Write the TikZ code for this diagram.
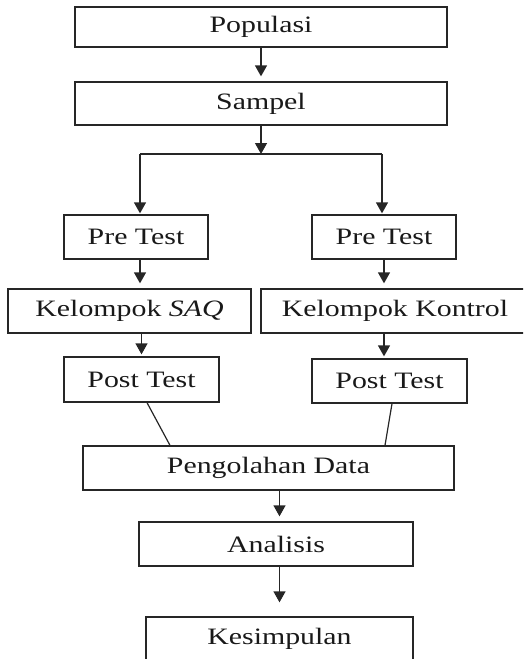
\documentclass[tikz,border=0pt]{standalone}
\usepackage{fontspec}
\setmainfont{Liberation Serif}[FakeStretch=1.27]
\usetikzlibrary{arrows.meta}
\begin{document}
\begin{tikzpicture}[x=1pt,y=-1pt,
  box/.style={draw=black!85, line width=1.3pt, rectangle, inner sep=0pt, font=\fontsize{23.5}{27}\selectfont, text=black!90},
  arr/.style={draw=black!85, line width=1.3pt, -{Triangle[length=11pt,width=12pt]}, shorten >=5pt},
  ln/.style={draw=black!85, line width=1.2pt}]
\useasboundingbox (0,0) rectangle (523,659);
\clip (0,0) rectangle (523,659);
\node[box, minimum width=372pt, minimum height=40pt] (pop) at (261,27) {Populasi};
\node[box, minimum width=372pt, minimum height=43pt] (sam) at (261,103.5) {Sampel};
\coordinate (j) at (261,154);
\coordinate (jl) at (140,154);
\coordinate (jr) at (382,154);
\node[box, minimum width=144pt, minimum height=44pt] (preL) at (136,237) {Pre Test};
\node[box, minimum width=144pt, minimum height=44pt] (preR) at (384,237) {Pre Test};
\node[box, minimum width=243pt, minimum height=44pt] (saq) at (129.5,311) {Kelompok \textit{SAQ}};
\node[box, minimum width=268pt, minimum height=44pt] (kon) at (395,311) {Kelompok Kontrol};
\node[box, minimum width=155pt, minimum height=45pt] (postL) at (141.5,379.5) {Post Test};
\node[box, minimum width=155pt, minimum height=44pt] (postR) at (389.5,381) {Post Test};
\node[box, minimum width=371pt, minimum height=44pt] (peng) at (268.5,468) {Pengolahan Data};
\node[box, minimum width=274pt, minimum height=44pt] (ana) at (276,544) {Analisis};
\node[box, minimum width=267pt, minimum height=44pt] (kes) at (279.5,639) {Kesimpulan};

\draw[arr] (pop.south) -- (sam.north);
\draw[arr, shorten >=0pt] (sam.south) -- (j);
\draw[ln] (jl) -- (jr);
\draw[arr, shorten >=1pt] (jl) -- (jl |- preL.north);
\draw[arr, shorten >=1pt] (jr) -- (jr |- preR.north);
\draw[arr] (preL.south -| jl) -- (saq.north -| jl);
\draw[arr] (preR.south) -- (preR.south |- kon.north);
\draw[arr, shorten >=2pt] (saq.south -| postL) -- (postL.north);
\draw[arr, shorten >=2pt] (kon.south -| preR) -- (postR.north -| preR);
\draw[ln] ([xshift=5.5pt]postL.south) -- ([xshift=-98.5pt]peng.north);
\draw[ln] ([xshift=2.5pt]postR.south) -- ([xshift=116.5pt]peng.north);
\draw[arr] (peng.south -| kes) -- (ana.north -| kes);
\draw[arr, shorten >=14pt] (ana.south -| kes) -- (kes.north);
\end{tikzpicture}
\end{document}
